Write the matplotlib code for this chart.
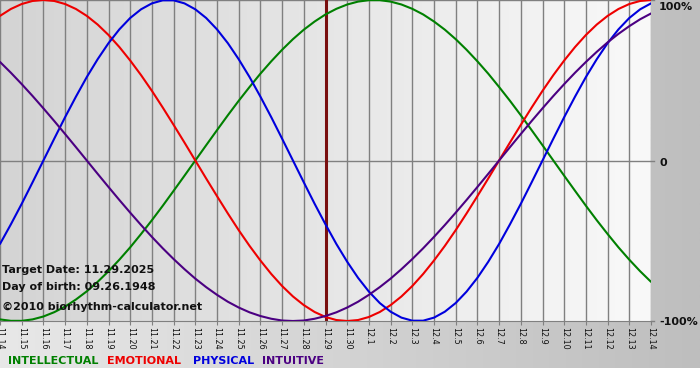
import numpy as np
import matplotlib
matplotlib.use("Agg")
import matplotlib.pyplot as plt
from matplotlib.colors import LinearSegmentedColormap

# day labels 11.14 .. 12.14
days = ["11.14", "11.15", "11.16", "11.17", "11.18", "11.19", "11.20", "11.21",
        "11.22", "11.23", "11.24", "11.25", "11.26", "11.27", "11.28", "11.29",
        "11.30", "12.1", "12.2", "12.3", "12.4", "12.5", "12.6", "12.7", "12.8",
        "12.9", "12.10", "12.11", "12.12", "12.13", "12.14"]

# values every half day, in %/100
physical = [-0.520, -0.398, -0.270, -0.136, 0.0, 0.136, 0.270, 0.398, 0.520,
            0.631, 0.731, 0.817, 0.888, 0.942, 0.979, 0.998, 0.998, 0.979,
            0.942, 0.888, 0.817, 0.731, 0.631, 0.520, 0.398, 0.270, 0.136, 0.0,
            -0.136, -0.270, -0.398, -0.520, -0.631, -0.731, -0.817, -0.888,
            -0.942, -0.979, -0.998, -0.998, -0.979, -0.942, -0.888, -0.817,
            -0.731, -0.631, -0.520, -0.398, -0.270, -0.136, 0.0, 0.136, 0.270,
            0.398, 0.520, 0.631, 0.731, 0.817, 0.888, 0.942, 0.979]
emotional = [0.901, 0.944, 0.975, 0.994, 1.0, 0.994, 0.975, 0.944, 0.901,
             0.847, 0.782, 0.707, 0.623, 0.532, 0.434, 0.330, 0.222, 0.112, 0.0,
             -0.112, -0.222, -0.330, -0.434, -0.532, -0.623, -0.707, -0.782,
             -0.847, -0.901, -0.944, -0.975, -0.994, -1.0, -0.994, -0.975,
             -0.944, -0.901, -0.847, -0.782, -0.707, -0.623, -0.532, -0.434,
             -0.330, -0.222, -0.112, 0.0, 0.112, 0.222, 0.330, 0.434, 0.532,
             0.623, 0.707, 0.782, 0.847, 0.901, 0.944, 0.975, 0.994, 1.0]
intellectual = [-0.990, -0.999, -0.999, -0.990, -0.972, -0.945, -0.910, -0.866,
                -0.815, -0.756, -0.690, -0.618, -0.541, -0.458, -0.372, -0.282,
                -0.189, -0.095, 0.0, 0.095, 0.189, 0.282, 0.372, 0.458, 0.541,
                0.618, 0.690, 0.756, 0.815, 0.866, 0.910, 0.945, 0.972, 0.990,
                0.999, 0.999, 0.990, 0.972, 0.945, 0.910, 0.866, 0.815, 0.756,
                0.690, 0.618, 0.541, 0.458, 0.372, 0.282, 0.189, 0.095, 0.0,
                -0.095, -0.189, -0.282, -0.372, -0.458, -0.541, -0.618, -0.690,
                -0.756]
intuitive = [0.614, 0.547, 0.476, 0.402, 0.325, 0.246, 0.165, 0.083, 0.0,
             -0.083, -0.165, -0.246, -0.325, -0.402, -0.476, -0.547, -0.614,
             -0.677, -0.736, -0.789, -0.837, -0.880, -0.916, -0.946, -0.969,
             -0.986, -0.997, -1.0, -0.997, -0.986, -0.969, -0.946, -0.916,
             -0.880, -0.837, -0.789, -0.736, -0.677, -0.614, -0.547, -0.476,
             -0.402, -0.325, -0.246, -0.165, -0.083, 0.0, 0.083, 0.165, 0.246,
             0.325, 0.402, 0.476, 0.547, 0.614, 0.677, 0.736, 0.789, 0.837,
             0.880, 0.916]

target_day = "11.29"
series = [("INTELLECTUAL", intellectual, "#008000"),
          ("EMOTIONAL", emotional, "#ee0000"),
          ("PHYSICAL", physical, "#0000dd"),
          ("INTUITIVE", intuitive, "#4b0082")]

W, H = 700, 380
fig = plt.figure(figsize=(W / 100, H / 100), dpi=100)
fig.patch.set_facecolor("white")

# background gradient behind everything
bg = fig.add_axes([0, 12 / H, 1, 1 - 12 / H], zorder=0)
bg_cmap = LinearSegmentedColormap.from_list("bg", ["#e8e8e8", "#bebebe"])
bg.imshow(np.linspace(0, 1, 256).reshape(1, -1), cmap=bg_cmap, aspect="auto",
          extent=[0, 1, 0, 1])
bg.set_axis_off()

x = np.arange(len(days))
xs = np.arange(len(physical)) / 2.0  # half-day steps
last = len(days) - 1

ax = fig.add_axes([0, 1 - 321 / H, 651 / W, 321 / H], zorder=1)
ax.set_xlim(0, last)
ax.set_ylim(-1.0, 1.0)

plot_cmap = LinearSegmentedColormap.from_list("pl", ["#d4d4d4", "#f9f9f9"])
ax.imshow(np.linspace(0, 1, 256).reshape(1, -1), cmap=plot_cmap, aspect="auto",
          extent=[0, last, -1, 1], zorder=0)

for xi in x:
    ax.axvline(xi, color="#808080", lw=1.0, zorder=1)
ax.axhline(0, color="#808080", lw=1.0, zorder=1)
ax.axhline(1.0, color="#808080", lw=1.0, zorder=1)

ti = days.index(target_day)
ax.axvline(ti, color="#7a1010", lw=2.2, zorder=2)

for name, vals, col in series:
    ax.plot(xs, vals, color=col, lw=1.5, zorder=3, solid_capstyle="round",
            solid_joinstyle="round")

ax.set_xticks(x)
ax.set_xticklabels(days, rotation=270, fontsize=5.8, ha="center", va="top",
                   color="#111111")
ax.tick_params(axis="x", length=3, color="#808080", pad=1.5)
ax.set_yticks([])
for s in ["left", "top", "right"]:
    ax.spines[s].set_visible(False)
ax.spines["bottom"].set_color("#808080")

tb = dict(fontsize=8.0, fontweight="bold", color="#111111", zorder=5)
ax.text(2 / 651, (321 - 270) / 321, "Target Date: 11.29.2025",
        transform=ax.transAxes, va="center", ha="left", **tb)
ax.text(2 / 651, (321 - 287) / 321, "Day of birth: 09.26.1948",
        transform=ax.transAxes, va="center", ha="left", **tb)
ax.text(2 / 651, (321 - 307) / 321, "\u00a92010 biorhythm-calculator.net",
        transform=ax.transAxes, va="center", ha="left", **tb)

# right side percentage labels
for yv, lab, dy in [(1.0, "100%", -7), (0.0, "0", -2), (-1.0, "-100%", -1)]:
    ax.annotate(lab, xy=(1, yv), xycoords=("axes fraction", "data"),
                xytext=(8, dy), textcoords="offset pixels", ha="left",
                va="center", fontsize=8.0, fontweight="bold", color="#111111",
                annotation_clip=False)
    ax.plot([last, last + 0.15], [yv, yv], color="#808080",
            lw=1, clip_on=False, zorder=1)

# legend row
legend_x = [8, 107, 193, 262]
for (name, vals, col), lx in zip(series, legend_x):
    fig.text(lx / W, 1 - 361 / H, name, color=col, fontsize=8.0,
             fontweight="bold", ha="left", va="center")

fig.savefig("out.png", dpi=100, facecolor=fig.get_facecolor())
